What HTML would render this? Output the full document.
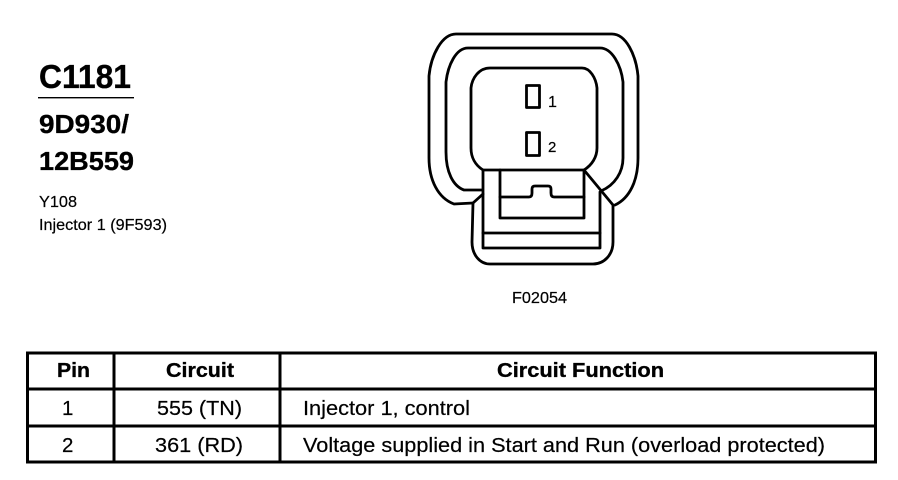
<!DOCTYPE html>
<html>
<head>
<meta charset="utf-8">
<style>
html,body{margin:0;padding:0;background:#fff;width:898px;height:480px;overflow:hidden}
svg{display:block}
text{font-family:"Liberation Sans",sans-serif;fill:#000;stroke:#000;stroke-width:.2}
.b{font-weight:bold;stroke-width:.35}
</style>
</head>
<body>
<svg width="898" height="480" viewBox="0 0 898 480" xmlns="http://www.w3.org/2000/svg">
<rect width="898" height="480" fill="#fff"/>
<!-- left labels -->
<text class="b" x="39" y="88" font-size="33" textLength="92" lengthAdjust="spacingAndGlyphs">C1181</text>
<rect x="38" y="97" width="96" height="1.4" fill="#000"/>
<text class="b" x="39" y="133" font-size="26" textLength="90" lengthAdjust="spacingAndGlyphs">9D930/</text>
<text class="b" x="39" y="170" font-size="26" textLength="95" lengthAdjust="spacingAndGlyphs">12B559</text>
<text x="39" y="207" font-size="16" textLength="38" lengthAdjust="spacingAndGlyphs">Y108</text>
<text x="39" y="230" font-size="16" textLength="128" lengthAdjust="spacingAndGlyphs">Injector 1 (9F593)</text>
<!-- connector -->
<g fill="none" stroke="#000" stroke-width="2.8" stroke-linejoin="round" stroke-linecap="round">
<path d="M473 203 L454 204 C438 198 429 180 429 158 L429 76 C431 55 442 34 456 34 L612 34 C626 34 636 55 638 76 L638 158 C638 180 630 198 615 205"/>
<path d="M482 190 L464 190 C453 186 446 172 446 152 L446 82 C448 65 456 48 468 48 L600 48 C612 48 621 65 623 82 L623 158 C623 172 615 185 601 191"/>
<path d="M483 170 C475 165 471 157 471 148 L471 88 C472 78 479 68 490 68 L582 68 C590 68 596 78 597 88 L597 148 C597 157 592 165 584 170"/>
<path d="M484 170 L584 170 L613 205"/>
<path d="M483 170 L483 248 L600 248 L600 192"/>
<path d="M483 233 L600 233"/>
<path d="M500 170 L500 218 L584 218 L584 170"/>
<path d="M500 197 L529 197 Q532 197 532 193 L532 189 Q532 186 535 186 L548 186 Q551 186 551 189 L551 193 Q551 197 554 197 L584 197"/>
<path d="M483 194 L473 203 L472 242 C472 255 480 264 490 264 L593 264 C604 264 613 255 613 242 L613 205"/>
<rect x="526.5" y="85.5" width="13" height="22"/>
<rect x="526.5" y="132.5" width="13" height="23"/>
</g>
<text x="548" y="107" font-size="16">1</text>
<text x="548" y="152" font-size="15">2</text>
<text x="512" y="303" font-size="16" textLength="55" lengthAdjust="spacingAndGlyphs">F02054</text>
<!-- table -->
<g fill="none" stroke="#000" stroke-width="3">
<rect x="27.5" y="353" width="848" height="109"/>
<path d="M27 389 H876 M27 426 H876 M114 353 V462 M280 353 V462"/>
</g>
<g font-size="20.5">
<text class="b" x="57" y="377" textLength="33" lengthAdjust="spacingAndGlyphs">Pin</text>
<text class="b" x="166" y="377" textLength="68" lengthAdjust="spacingAndGlyphs">Circuit</text>
<text class="b" x="497" y="377" textLength="167" lengthAdjust="spacingAndGlyphs">Circuit Function</text>
<text x="62" y="415">1</text>
<text x="157" y="415" textLength="85" lengthAdjust="spacingAndGlyphs">555 (TN)</text>
<text x="303" y="415" textLength="167" lengthAdjust="spacingAndGlyphs">Injector 1, control</text>
<text x="62" y="452">2</text>
<text x="155" y="452" textLength="88" lengthAdjust="spacingAndGlyphs">361 (RD)</text>
<text x="303" y="452" textLength="522" lengthAdjust="spacingAndGlyphs">Voltage supplied in Start and Run (overload protected)</text>
</g>
</svg>
</body>
</html>
